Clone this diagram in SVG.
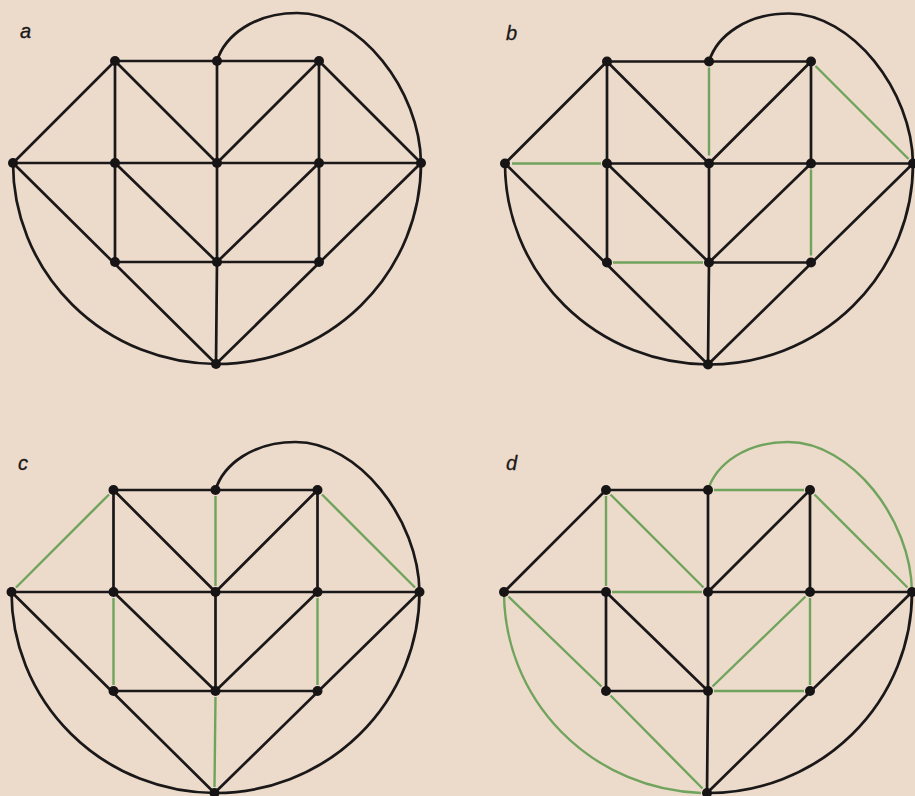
<svg xmlns="http://www.w3.org/2000/svg" width="915" height="796" viewBox="0 0 915 796">
<style>
.k{stroke:#1a1818;stroke-width:2.7;fill:none;stroke-linecap:round}
.g{stroke:#70a45c;stroke-width:2.4;fill:none;stroke-linecap:butt}
.n{fill:#161414}
.lbl{font-family:"Liberation Sans",Arial,sans-serif;font-style:italic;font-size:20px;fill:#1a1818;stroke:#1a1818;stroke-width:0.3}
</style>
<rect width="915" height="796" fill="#ecdacb"/>
<text class="lbl" x="20" y="38">a</text>
<text class="lbl" x="506" y="40">b</text>
<text class="lbl" x="18" y="470">c</text>
<text class="lbl" x="506" y="470">d</text>

<!-- Panel a -->
<g id="panel-a">
<g id="a-edges">
<path class="k" d="M115,61H217M217,61H319M13,163L115,61M319,61L421,163M13,163H421M115,61V262M217,61V262M217,262L216,364M319,61V262M115,61L217,163M319,61L217,163M115,163L217,262M319,163L217,262M115,262H319M13,163L216,364M421,163L216,364"/>
<path class="k" d="M217,61C225,35 255,13 297,13C360,13 420,90 421,163"/>
<path class="k" d="M13,163A204 201 0 0 0 216,364"/>
<path class="k" d="M421,163A204 201 0 0 1 216,364"/>
</g>
<g id="a-TL"><circle class="n" cx="115" cy="61" r="5"/></g>
<g id="a-TM"><circle class="n" cx="217" cy="61" r="5"/></g>
<g id="a-TR"><circle class="n" cx="319" cy="61" r="5"/></g>
<g id="a-L"><circle class="n" cx="13" cy="163" r="5"/></g>
<g id="a-ML"><circle class="n" cx="115" cy="163" r="5"/></g>
<g id="a-MM"><circle class="n" cx="217" cy="163" r="5"/></g>
<g id="a-MR"><circle class="n" cx="319" cy="163" r="5"/></g>
<g id="a-R"><circle class="n" cx="421" cy="163" r="5"/></g>
<g id="a-BL"><circle class="n" cx="115" cy="262" r="5"/></g>
<g id="a-BM"><circle class="n" cx="217" cy="262" r="5"/></g>
<g id="a-BR"><circle class="n" cx="319" cy="262" r="5"/></g>
<g id="a-Bot"><circle class="n" cx="216" cy="364" r="5"/></g>
</g>

<!-- Panel b -->
<g id="panel-b" transform="translate(492,0.5)">
<g id="b-edges">
<path class="k" d="M115,61H217M217,61H319M13,163L115,61M115,163H421M115,61V262M217,163V262M217,262L216,364M319,61V163M115,61L217,163M319,61L217,163M115,163L217,262M319,163L217,262M217,262H319M13,163L216,364M421,163L216,364"/>
<path class="k" d="M217,61C225,35 255,13 297,13C360,13 420,90 421,163"/>
<path class="k" d="M13,163A204 201 0 0 0 216,364"/>
<path class="k" d="M421,163A204 201 0 0 1 216,364"/>
<path class="g" d="M217,67V155M323.5,65.5L416.5,158.5M20,163H109M121,262H211M319,169V255"/>
</g>
<g id="b-TL"><circle class="n" cx="115" cy="61" r="5"/></g>
<g id="b-TM"><circle class="n" cx="217" cy="61" r="5"/></g>
<g id="b-TR"><circle class="n" cx="319" cy="61" r="5"/></g>
<g id="b-L"><circle class="n" cx="13" cy="163" r="5"/></g>
<g id="b-ML"><circle class="n" cx="115" cy="163" r="5"/></g>
<g id="b-MM"><circle class="n" cx="217" cy="163" r="5"/></g>
<g id="b-MR"><circle class="n" cx="319" cy="163" r="5"/></g>
<g id="b-R"><circle class="n" cx="421" cy="163" r="5"/></g>
<g id="b-BL"><circle class="n" cx="115" cy="262" r="5"/></g>
<g id="b-BM"><circle class="n" cx="217" cy="262" r="5"/></g>
<g id="b-BR"><circle class="n" cx="319" cy="262" r="5"/></g>
<g id="b-Bot"><circle class="n" cx="216" cy="364" r="5"/></g>
</g>

<!-- Panel c -->
<g id="panel-c" transform="translate(-1.5,429)">
<g id="c-edges">
<path class="k" d="M115,61H217M217,61H319M13,163H421M115,61V163M217,163V262M319,61V163M115,61L217,163M319,61L217,163M115,163L217,262M319,163L217,262M115,262H319M13,163L216,364M421,163L216,364"/>
<path class="k" d="M217,61C225,35 255,13 297,13C360,13 420,90 421,163"/>
<path class="k" d="M13,163A204 201 0 0 0 216,364"/>
<path class="k" d="M421,163A204 201 0 0 1 216,364"/>
<path class="g" d="M17.5,158.5L110.5,65.5M323.5,65.5L416.5,158.5M217,67V157M115,169V256M319,169V256M217,268L216,358"/>
</g>
<g id="c-TL"><circle class="n" cx="115" cy="61" r="5"/></g>
<g id="c-TM"><circle class="n" cx="217" cy="61" r="5"/></g>
<g id="c-TR"><circle class="n" cx="319" cy="61" r="5"/></g>
<g id="c-L"><circle class="n" cx="13" cy="163" r="5"/></g>
<g id="c-ML"><circle class="n" cx="115" cy="163" r="5"/></g>
<g id="c-MM"><circle class="n" cx="217" cy="163" r="5"/></g>
<g id="c-MR"><circle class="n" cx="319" cy="163" r="5"/></g>
<g id="c-R"><circle class="n" cx="421" cy="163" r="5"/></g>
<g id="c-BL"><circle class="n" cx="115" cy="262" r="5"/></g>
<g id="c-BM"><circle class="n" cx="217" cy="262" r="5"/></g>
<g id="c-BR"><circle class="n" cx="319" cy="262" r="5"/></g>
<g id="c-Bot"><circle class="n" cx="216" cy="364" r="5"/></g>
</g>

<!-- Panel d -->
<g id="panel-d" transform="translate(491,429)">
<g id="d-edges">
<path class="k" d="M115,61H217M13,163L115,61M13,163H115M217,163H421M115,163V262M217,61V262M217,262L216,364M319,61V163M319,61L217,163M115,163L217,262M115,262H217M421,163L216,364"/>
<path class="k" d="M421,163A204 201 0 0 1 216,364"/>
<path class="g" d="M217,61C225,35 255,13 297,13C360,13 420,90 421,163"/>
<path class="g" d="M13,163A204 201 0 0 0 210,364"/>
<path class="g" d="M223,61H313M115,67V157M119.5,65.5L212.5,158.5M323.5,65.5L416.5,158.5M121,163H211M314.5,167.5L221.5,257.5M319,169V256M223,262H313M17.5,167.5L110.5,257.5M119.5,266.5L211.5,359.5"/>
</g>
<g id="d-TL"><circle class="n" cx="115" cy="61" r="5"/></g>
<g id="d-TM"><circle class="n" cx="217" cy="61" r="5"/></g>
<g id="d-TR"><circle class="n" cx="319" cy="61" r="5"/></g>
<g id="d-L"><circle class="n" cx="13" cy="163" r="5"/></g>
<g id="d-ML"><circle class="n" cx="115" cy="163" r="5"/></g>
<g id="d-MM"><circle class="n" cx="217" cy="163" r="5"/></g>
<g id="d-MR"><circle class="n" cx="319" cy="163" r="5"/></g>
<g id="d-R"><circle class="n" cx="421" cy="163" r="5"/></g>
<g id="d-BL"><circle class="n" cx="115" cy="262" r="5"/></g>
<g id="d-BM"><circle class="n" cx="217" cy="262" r="5"/></g>
<g id="d-BR"><circle class="n" cx="319" cy="262" r="5"/></g>
<g id="d-Bot"><circle class="n" cx="216" cy="364" r="5"/></g>
</g>
</svg>
